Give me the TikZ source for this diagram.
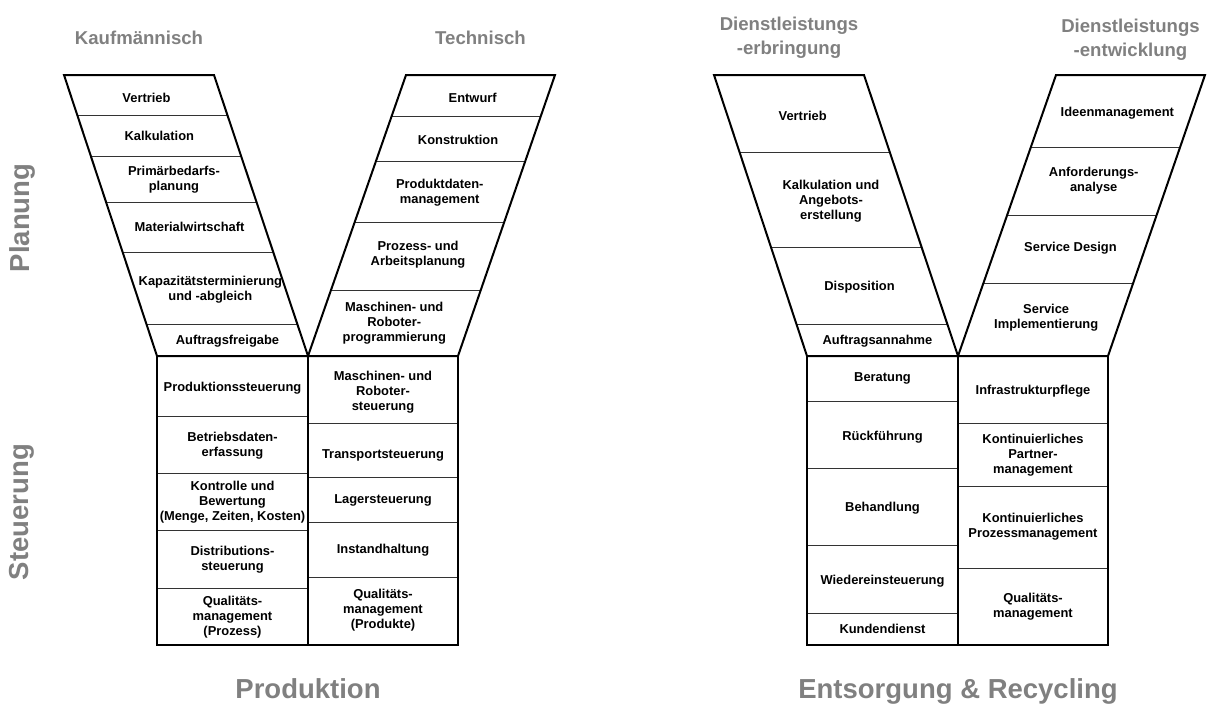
\documentclass[tikz,border=0pt]{standalone}
\usepackage{fontspec}
\setmainfont{Liberation Sans}
\definecolor{titlegray}{RGB}{128,128,128}
\newcommand\Tsep[5]{%
  \pgfmathsetmacro\sepxa{#1+(#5-75)/281*(#2-#1)}%
  \pgfmathsetmacro\sepxb{#3+(#5-75)/281*(#4-#3)}%
  \draw[sep] (\sepxa,#5) -- (\sepxb,#5);}
\newcommand\Tlab[5]{%
  \pgfmathsetmacro\labx{#2+(#4-75)/281*(#3-#2)}%
  \node[lbl] (#1) at (\labx,#4) {#5};}
\begin{document}
\begin{tikzpicture}[x=1pt,y=-1pt,
  outline/.style={line width=2pt, line join=miter},
  sep/.style={line width=1pt, black!80},
  lbl/.style={font=\fontsize{12.9}{15}\selectfont\bfseries, align=center, inner sep=0pt},
  head/.style={font=\fontsize{18.6}{24}\selectfont\bfseries, text=titlegray, align=center, inner sep=0pt},
  big/.style={font=\fontsize{27.5}{30}\selectfont\bfseries, text=titlegray, inner sep=0pt},
]
\useasboundingbox (0,0) rectangle (1208,716);

% ---------------- titles ----------------
\node[head, anchor=base] (kauf) at (139,44.5) {Kaufmännisch};
\node[head, anchor=base] (tech) at (480.5,44.5) {Technisch};
\node[head] (dle) at (789,37.5) {Dienstleistungs\\-erbringung};
\node[head] (dlw) at (1130.5,40) {Dienstleistungs\\-entwicklung};
\node[big, anchor=base] (prod) at (308,698) {Produktion};
\node[big, anchor=base] (ents) at (958,698) {Entsorgung \& Recycling};
\node[big, rotate=90] (plan) at (22,218) {Planung};
\node[big, rotate=90] (steu) at (22,512) {Steuerung};

% ================= LEFT DIAGRAM (Produktion) =================
% left trapezoid: TL(64,75) TR(214,75) BL(157,356) BR(308,356)
\Tsep{64}{157}{214}{308}{115.7}
\Tsep{64}{157}{214}{308}{156.3}
\Tsep{64}{157}{214}{308}{202.3}
\Tsep{64}{157}{214}{308}{252.3}
\Tsep{64}{157}{214}{308}{324.3}
% right trapezoid: TL(406,75) TR(555,75) BL(308,356) BR(458,356)
\Tsep{406}{308}{555}{458}{116.7}
\Tsep{406}{308}{555}{458}{161.7}
\Tsep{406}{308}{555}{458}{222.3}
\Tsep{406}{308}{555}{458}{290}
% rectangle rows
\foreach \yy in {416,473.3,530.7,588.3} \draw[sep] (157,\yy) -- (308,\yy);
\foreach \yy in {423.3,477.3,522.7,577.3} \draw[sep] (308,\yy) -- (458,\yy);
% outlines
\draw[outline] (64,75) -- (214,75) -- (308,356) -- (157,356) -- cycle;
\draw[outline] (406,75) -- (555,75) -- (458,356) -- (308,356) -- cycle;
\draw[outline] (157,356) rectangle (458,645);
\draw[outline] (308,356) -- (308,645);

% labels left trapezoid (top centre 139, bottom centre 232.5)
\Tlab{a1}{139}{232.5}{97.5}{Vertrieb}
\Tlab{a2}{139}{232.5}{136}{Kalkulation}
\Tlab{a3}{139}{232.5}{180}{Primärbedarfs-\\planung}
\Tlab{a4}{139}{232.5}{227}{Materialwirtschaft}
\Tlab{a5}{139}{232.5}{289.5}{Kapazitätsterminierung\\und -abgleich}
\Tlab{a6}{139}{232.5}{341}{Auftragsfreigabe}
% labels right trapezoid (top centre 480.5, bottom centre 383)
\Tlab{b1}{480.5}{383}{97.5}{Entwurf}
\Tlab{b2}{480.5}{383}{139.5}{Konstruktion}
\Tlab{b3}{480.5}{383}{192.5}{Produktdaten-\\management}
\Tlab{b4}{480.5}{383}{255}{Prozess- und\\Arbeitsplanung}
\Tlab{b5}{480.5}{383}{323.5}{Maschinen- und\\Roboter-\\programmierung}
% labels rectangle left column
\node[lbl] (c1) at (232.5,388) {Produktionssteuerung};
\node[lbl] (c2) at (232.5,445.5) {Betriebsdaten-\\erfassung};
\node[lbl] (c3) at (232.5,502.5) {Kontrolle und\\Bewertung\\(Menge, Zeiten, Kosten)};
\node[lbl] (c4) at (232.5,560) {Distributions-\\steuerung};
\node[lbl] (c5) at (232.5,617) {Qualitäts-\\management\\(Prozess)};
% labels rectangle right column
\node[lbl] (d1) at (383,392) {Maschinen- und\\Roboter-\\steuerung};
\node[lbl] (d2) at (383,455) {Transportsteuerung};
\node[lbl] (d3) at (383,500) {Lagersteuerung};
\node[lbl] (d4) at (383,550) {Instandhaltung};
\node[lbl] (d5) at (383,610) {Qualitäts-\\management\\(Produkte)};

% ================= RIGHT DIAGRAM (Entsorgung & Recycling) =================
% left trapezoid: TL(714,75) TR(864,75) BL(807,356) BR(958,356)
\Tsep{714}{807}{864}{958}{152.7}
\Tsep{714}{807}{864}{958}{247.3}
\Tsep{714}{807}{864}{958}{324.3}
% right trapezoid: TL(1056,75) TR(1205,75) BL(958,356) BR(1108,356)
\Tsep{1056}{958}{1205}{1108}{147.3}
\Tsep{1056}{958}{1205}{1108}{215.7}
\Tsep{1056}{958}{1205}{1108}{283.3}
% rectangle rows
\foreach \yy in {401,468.7,545.7,613.3} \draw[sep] (807,\yy) -- (958,\yy);
\foreach \yy in {423.3,486.7,568.3} \draw[sep] (958,\yy) -- (1108,\yy);
% outlines
\draw[outline] (714,75) -- (864,75) -- (958,356) -- (807,356) -- cycle;
\draw[outline] (1056,75) -- (1205,75) -- (1108,356) -- (958,356) -- cycle;
\draw[outline] (807,356) rectangle (1108,645);
\draw[outline] (958,356) -- (958,645);

% labels left trapezoid (top centre 789, bottom centre 882.5)
\Tlab{e1}{789}{882.5}{116}{Vertrieb}
\Tlab{e2}{789}{882.5}{201}{Kalkulation und\\Angebots-\\erstellung}
\Tlab{e3}{789}{882.5}{287}{Disposition}
\Tlab{e4}{789}{882.5}{341}{Auftragsannahme}
% labels right trapezoid (top centre 1130.5, bottom centre 1033)
\Tlab{f1}{1130.5}{1033}{113}{Ideenmanagement}
\Tlab{f2}{1130.5}{1033}{181}{Anforderungs-\\analyse}
\Tlab{f3}{1130.5}{1033}{248}{Service Design}
\Tlab{f4}{1130.5}{1033}{318}{Service\\Implementierung}
% labels rectangle left column
\node[lbl] (g1) at (882.5,378) {Beratung};
\node[lbl] (g2) at (882.5,437.5) {Rückführung};
\node[lbl] (g3) at (882.5,508) {Behandlung};
\node[lbl] (g4) at (882.5,581) {Wiedereinsteuerung};
\node[lbl] (g5) at (882.5,628.5) {Kundendienst};
% labels rectangle right column
\node[lbl] (h1) at (1033,391.5) {Infrastrukturpflege};
\node[lbl] (h2) at (1033,455) {Kontinuierliches\\Partner-\\management};
\node[lbl] (h3) at (1033,526.5) {Kontinuierliches\\Prozessmanagement};
\node[lbl] (h4) at (1033,606.5) {Qualitäts-\\management};
\end{tikzpicture}
\end{document}
